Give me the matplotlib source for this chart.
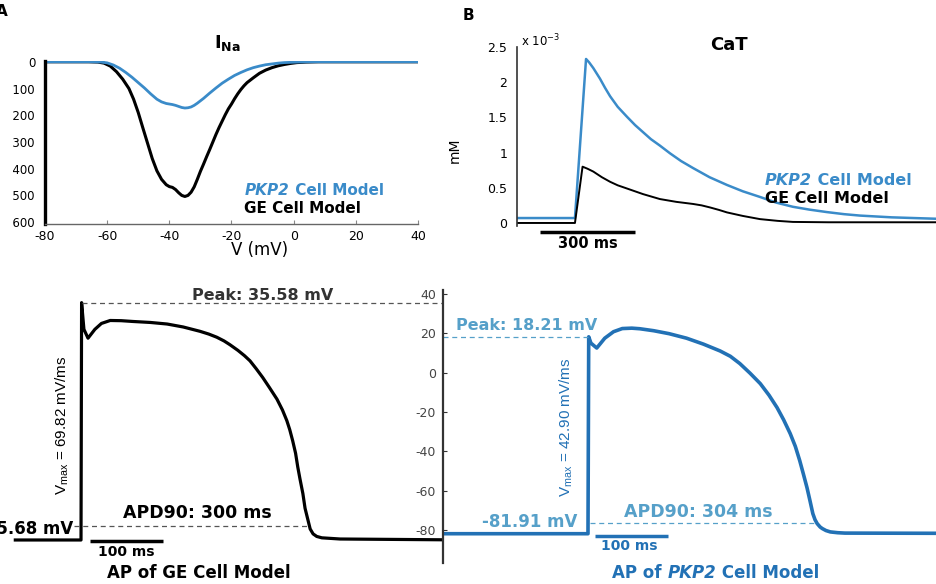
import numpy as np
import matplotlib.pyplot as plt
from matplotlib.patches import Rectangle

plt.rcParams['font.family'] = 'DejaVu Sans'
plt.rcParams['axes.unicode_minus'] = False

BLUE = '#3a8bc9'
BLUE_AP = '#2271b5'
BLUE_TXT = '#56a0c9'
W, H = 936, 584

# ---------- A: I_Na vs V ----------
v_ge = [-80, -66, -63, -61, -59, -57, -55, -53, -51.5, -50, -48.5, -47, -45.5, -44, -42.5,
        -41, -40, -39, -38, -37, -36, -35, -34, -33, -32, -31, -30, -29, -28, -27, -26,
        -25, -24, -23, -22, -21, -20, -19, -18, -17, -16, -15, -13, -11, -9, -7, -5, -3,
        -1, 1, 4, 8, 40]
ina_ge = [0, 0, -1, -5, -16, -37, -65, -100, -140, -190, -248, -305, -362, -408, -440,
          -460, -467, -470, -478, -490, -500, -504, -500, -488, -468, -440, -410, -383,
          -355, -328, -300, -272, -246, -222, -198, -176, -158, -138, -120, -104, -90,
          -78, -60, -43, -31, -22, -15, -10, -6, -3, -1, 0, 0]
v_pkp = [-80, -65, -62, -60, -58, -56, -54, -52, -50, -48, -46, -44, -42.5, -41, -40, -39,
         -38, -37, -36, -35, -34, -33, -32, -31, -30, -29, -27, -25, -23, -21, -19, -17,
         -15, -13, -11, -9, -7, -5, -3, 0, 3, 7, 40]
ina_pkp = [0, 0, -1, -4, -12, -24, -40, -58, -78, -98, -120, -140, -150, -156, -158, -160,
           -163, -167, -171, -173, -172, -169, -163, -155, -146, -137, -117, -98, -80, -65,
           -51, -40, -30, -22, -16, -11, -8, -5, -3, -1.5, -0.5, 0, 0]

# ---------- B: CaT (x1e-3 mM), time in ms from stimulus ----------
t_cat_pkp = [-183, 0, 35, 45, 58, 79, 95, 111, 135, 164, 190, 215, 240, 268, 300, 335, 373,
             425, 480, 530, 584, 635, 688, 740, 795, 850, 900, 1000, 1140]
cat_pkp = [0.07, 0.07, 2.33, 2.28, 2.20, 2.05, 1.92, 1.80, 1.65, 1.51, 1.39, 1.29, 1.19,
           1.10, 0.99, 0.88, 0.78, 0.65, 0.54, 0.45, 0.37, 0.29, 0.23, 0.19, 0.155, 0.125,
           0.105, 0.08, 0.06]
t_cat_ge = [-183, 0, 24, 40, 58, 85, 111, 135, 164, 215, 268, 320, 373, 400, 427, 455, 480,
            530, 584, 640, 688, 800, 1140]
cat_ge = [0.0, 0.0, 0.80, 0.77, 0.73, 0.65, 0.585, 0.535, 0.49, 0.41, 0.34, 0.30, 0.27,
          0.25, 0.22, 0.185, 0.15, 0.10, 0.055, 0.03, 0.015, 0.01, 0.01]

# ---------- AP traces, time in ms from upstroke ----------
t_ap_ge = [-90, 0, 0.8, 4, 9.6, 19, 28, 40, 55, 71, 95, 118, 140, 163, 175, 186, 196, 204,
           215, 224, 231.5, 240, 249, 258, 268.5, 276, 282, 286, 290, 294, 297, 300, 304,
           307, 311, 314, 318, 323, 330, 355, 496]
ap_ge = [-85.1, -85.1, 35.58, 22, 17.5, 22, 25, 26.5, 26.4, 26, 25.5, 24.7, 23.2, 21, 19.6,
         18.0, 16.1, 14.2, 11.3, 8.6, 6.0, 2.0, -2.5, -7.5, -13.5, -19.0, -24.4, -29, -34.6,
         -41, -48, -54, -61.5, -69, -75, -79.5, -82, -83.3, -84, -84.6, -85.0]
t_ap_pkp = [-199, 0, 1, 4, 12, 23, 35, 47, 60, 71, 90, 111, 135, 158, 181, 195, 208, 222,
            236, 248, 259, 268, 277, 284, 290, 295, 300, 304, 308, 311, 314, 318, 321, 326,
            332, 342, 352, 477]
ap_pkp = [-81.91, -81.91, 18.21, 15, 12.5, 17.5, 20.8, 22.4, 22.6, 22.3, 21.3, 19.8, 17.5,
          14.5, 11.0, 8.3, 4.6, -0.3, -5.6, -11.5, -17.8, -24, -31, -37.5, -44.7, -51.5,
          -58.5, -65, -71.7, -74.8, -76.8, -78.5, -79.3, -80.3, -81.0, -81.4, -81.6, -81.7]
peak_ge, peak_pkp = 35.58, 18.21
apd_level_ge, apd_level_pkp = -77.8, -76.5


def T(x, y, s, **kw):
    return fig.text(x / W, 1 - y / H, s, **kw)


def apd_end(t, v, level):
    t = np.array(t)
    v = np.array(v)
    rep = t > 200
    return np.interp(level, v[rep][::-1], t[rep][::-1])


fig = plt.figure(figsize=(9.36, 5.84), dpi=100)

# ----- panel A -----
axA = fig.add_axes([45 / W, 1 - 224 / H, 373 / W, 163 / H])
axA.plot(v_ge, ina_ge, color='black', lw=2.2)
axA.plot(v_pkp, ina_pkp, color=BLUE, lw=2.0)
axA.set_xlim(-80, 40)
axA.set_ylim(-607, 3)
axA.set_xticks(range(-80, 41, 20))
axA.set_yticks(range(0, -601, -100))
for s in ['top', 'right']:
    axA.spines[s].set_visible(False)
axA.spines['left'].set_linewidth(2.4)
axA.spines['bottom'].set_linewidth(1.0)
axA.spines['bottom'].set_color('#666666')
axA.tick_params(axis='x', direction='in', length=3, labelsize=9, color='#888888', pad=4)
axA.tick_params(axis='y', length=0, labelsize=8.5, pad=7)
fig.add_artist(Rectangle((0, 1 - 232 / H), 13 / W, 180 / H, transform=fig.transFigure,
                         facecolor='white', edgecolor='none', zorder=5))
T(2, 12, 'A', fontweight='bold', fontsize=11, ha='center', va='center')
T(227, 43, r'I$_{\mathregular{Na}}$', fontweight='bold', fontsize=13, ha='center', va='center')
t1 = T(245, 195, 'PKP2', fontweight='bold', style='italic', color=BLUE, fontsize=11, va='baseline')
axA.annotate(' Cell Model', xy=(1, 0), xycoords=t1, va='bottom', ha='left',
             fontweight='bold', color=BLUE, fontsize=11)
T(244, 213, 'GE Cell Model', fontweight='bold', fontsize=11, va='baseline')
T(260, 250, 'V (mV)', fontsize=12, ha='center', va='center')

# ----- panel B -----
axB = fig.add_axes([517 / W, 1 - 226 / H, 419 / W, 179 / H])
axB.plot(t_cat_pkp, cat_pkp, color=BLUE, lw=1.8)
axB.plot(t_cat_ge, cat_ge, color='black', lw=1.4)
axB.set_xlim(-183, 1140)
axB.set_ylim(-0.043, 2.5)
axB.set_xticks([])
axB.set_yticks([0, 0.5, 1, 1.5, 2, 2.5])
axB.set_yticklabels(['0', '0.5', '1', '1.5', '2', '2.5'])
for s in ['top', 'right', 'bottom']:
    axB.spines[s].set_visible(False)
axB.spines['left'].set_color('#333333')
axB.spines['left'].set_linewidth(1.2)
axB.tick_params(axis='y', length=0, labelsize=9, pad=7)
cat_bar_start, cat_bar_ms = -110, 300
axB.plot([cat_bar_start, cat_bar_start + cat_bar_ms], [-0.128, -0.128], color='black',
         lw=2.5, clip_on=False, solid_capstyle='butt')
T(468, 16, 'B', fontweight='bold', fontsize=11, ha='center', va='center')
T(521, 41, r'x 10$^{\mathregular{-3}}$', fontsize=8.5, ha='left', va='center')
T(729, 45, 'CaT', fontweight='bold', fontsize=13, ha='center', va='center')
T(455, 150, 'mM', fontsize=10, rotation=90, ha='center', va='center')
t2 = T(765, 185, 'PKP2', fontweight='bold', style='italic', color=BLUE, fontsize=11.5, va='baseline')
axB.annotate(' Cell Model', xy=(1, 0), xycoords=t2, va='bottom', ha='left',
             fontweight='bold', color=BLUE, fontsize=11.5)
T(765, 203, 'GE Cell Model', fontweight='bold', fontsize=11.5, va='baseline')
T(588, 244, '300 ms', fontweight='bold', fontsize=10.5, ha='center', va='center')

# ----- bottom: action potentials -----
ylim_ap = (-96.8, 42)
axL = fig.add_axes([0, 1 - 563 / H, 443 / W, 273 / H])
axL.plot(t_ap_ge, ap_ge, color='black', lw=2.3, solid_joinstyle='round')
axL.set_xlim(-111, 496)
axL.set_ylim(*ylim_ap)
axL.axis('off')
axL.plot([t_ap_ge[2], 496], [peak_ge, peak_ge], color='#555555', lw=0.9, ls=(0, (4, 3)))
axL.plot([-9, apd_end(t_ap_ge, ap_ge, apd_level_ge)], [apd_level_ge] * 2,
         color='#555555', lw=0.9, ls=(0, (4, 3)))
bar_start, bar_ms = 12, 100
axL.plot([bar_start, bar_start + bar_ms], [-85.8, -85.8], color='black', lw=2.5,
         solid_capstyle='butt')

axR = fig.add_axes([443 / W, 1 - 563 / H, 493 / W, 273 / H])
axR.plot(t_ap_pkp, ap_pkp, color=BLUE_AP, lw=2.6, solid_joinstyle='round')
axR.set_xlim(-198.6, 476.7)
axR.set_ylim(*ylim_ap)
axR.set_xticks([])
axR.set_yticks(range(-80, 41, 20))
for s in ['top', 'right', 'bottom']:
    axR.spines[s].set_visible(False)
axR.spines['left'].set_color('#333333')
axR.spines['left'].set_linewidth(1.6)
axR.tick_params(axis='y', direction='in', length=3, labelsize=9, labelcolor='#444444',
                color='#333333', pad=5)
axR.plot([-198.6, 0], [peak_pkp, peak_pkp], color=BLUE_TXT, lw=0.9, ls=(0, (4, 3)))
axR.plot([3, apd_end(t_ap_pkp, ap_pkp, apd_level_pkp)], [apd_level_pkp] * 2,
         color=BLUE_TXT, lw=0.9, ls=(0, (4, 3)))
axR.plot([9.6, 9.6 + bar_ms], [-83.2, -83.2], color=BLUE_AP, lw=2.5, solid_capstyle='butt')

T(263, 300, 'Peak: 35.58 mV', fontweight='bold', fontsize=11.5, color='#333333',
  ha='center', va='baseline')
T(62, 425, r'V$_{\mathregular{max}}$ = 69.82 mV/ms', family='Liberation Sans', fontsize=11,
  rotation=90, ha='center', va='center')
T(73, 534, '-85.68 mV', fontweight='bold', fontsize=12, ha='right', va='baseline')
T(197, 518, 'APD90: 300 ms', fontweight='bold', fontsize=12.5, ha='center', va='baseline')
T(126, 552, '100 ms', fontweight='bold', fontsize=10, ha='center', va='center')
T(199, 573, 'AP of GE Cell Model', fontweight='bold', fontsize=12, ha='center', va='center')

T(527, 330, 'Peak: 18.21 mV', fontweight='bold', fontsize=11.5, color=BLUE_TXT,
  ha='center', va='baseline')
T(566, 427, r'V$_{\mathregular{max}}$ = 42.90 mV/ms', family='Liberation Sans', fontsize=11,
  rotation=90, color=BLUE_AP, ha='center', va='center')
T(577, 527, '-81.91 mV', fontweight='bold', fontsize=12, color=BLUE_TXT, ha='right',
  va='baseline')
T(698, 517, 'APD90: 304 ms', fontweight='bold', fontsize=12.5, color=BLUE_TXT, ha='center',
  va='baseline')
T(629, 546, '100 ms', fontweight='bold', fontsize=10, color=BLUE_AP, ha='center', va='center')
t3 = T(612, 578, 'AP of ', fontweight='bold', fontsize=12, color=BLUE_AP, va='baseline')
t4 = axR.annotate('PKP2', xy=(1, 0), xycoords=t3, va='bottom', ha='left', fontweight='bold',
                  style='italic', fontsize=12, color=BLUE_AP)
axR.annotate(' Cell Model', xy=(1, 0), xycoords=t4, va='bottom', ha='left',
             fontweight='bold', fontsize=12, color=BLUE_AP)

fig.savefig('out.png', dpi=100)
